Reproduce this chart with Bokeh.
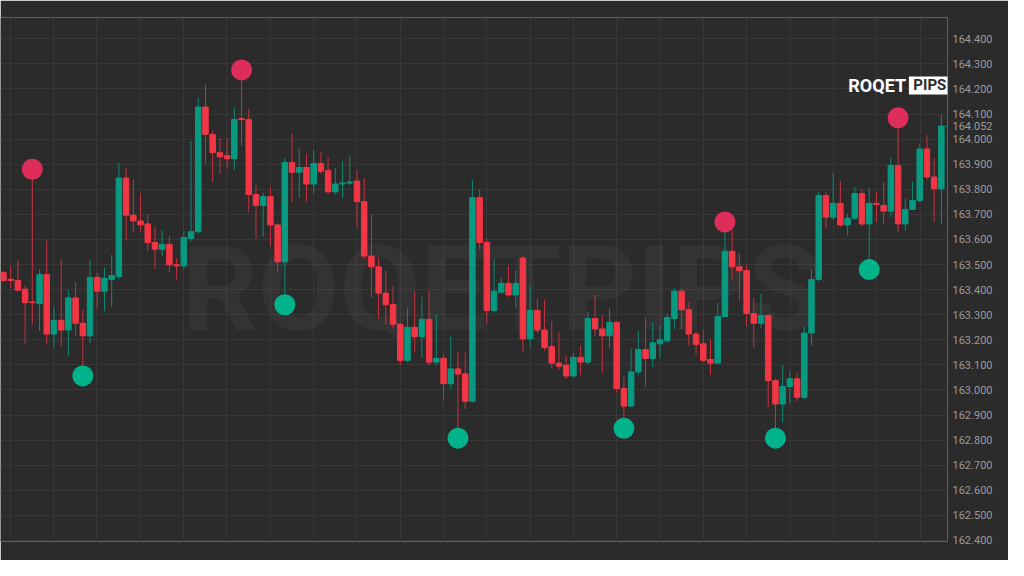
from bokeh.plotting import figure
from bokeh.models import (ColumnDataSource, NumeralTickFormatter, FixedTicker, Range1d)
from bokeh.core.properties import value
from bokeh.embed import file_html
from bokeh.resources import INLINE

# ---- data ----
open_ = [163.468, 163.441, 163.437, 163.402, 163.351, 163.344, 163.460, 163.223, 163.278, 163.239,
         163.367, 163.266, 163.216, 163.449, 163.394, 163.441, 163.452, 163.845, 163.697, 163.674,
         163.662, 163.588, 163.561, 163.581, 163.499, 163.495, 163.604, 163.631, 164.128, 164.019,
         163.946, 163.934, 163.922, 164.082, 164.078, 163.779, 163.736, 163.771, 163.658, 163.511,
         163.907, 163.868, 163.887, 163.821, 163.903, 163.876, 163.790, 163.821, 163.825, 163.833,
         163.751, 163.534, 163.491, 163.386, 163.340, 163.262, 163.118, 163.250, 163.212, 163.282,
         163.111, 163.126, 163.025, 163.084, 163.064, 162.955, 163.767, 163.588, 163.317, 163.390,
         163.425, 163.379, 163.526, 163.204, 163.317, 163.239, 163.173, 163.107, 163.099, 163.056,
         163.130, 163.111, 163.285, 163.243, 163.216, 163.270, 163.006, 162.936, 163.072, 163.161,
         163.126, 163.184, 163.196, 163.285, 163.394, 163.320, 163.223, 163.184, 163.122, 163.107,
         163.293, 163.553, 163.491, 163.476, 163.305, 163.266, 163.297, 163.037, 162.944, 163.014,
         163.045, 162.971, 163.227, 163.441, 163.775, 163.689, 163.744, 163.658, 163.685, 163.783,
         163.662, 163.744, 163.736, 163.713, 163.895, 163.662, 163.720, 163.755, 163.961, 163.849,
         163.802]
high = [163.476, 163.495, 163.518, 163.417, 163.880, 163.480, 163.596, 163.332, 163.522, 163.398,
        163.429, 163.320, 163.518, 163.468, 163.487, 163.538, 163.907, 163.884, 163.841, 163.783,
        163.701, 163.650, 163.635, 163.616, 163.526, 163.635, 163.992, 164.167, 164.217, 164.035,
        164.004, 164.004, 164.124, 164.276, 164.120, 163.817, 163.786, 163.806, 163.666, 163.926,
        164.023, 163.965, 163.942, 163.957, 163.950, 163.926, 163.884, 163.911, 163.934, 163.876,
        163.845, 163.701, 163.526, 163.476, 163.414, 163.266, 163.328, 163.394, 163.371, 163.398,
        163.301, 163.142, 163.216, 163.153, 163.149, 163.837, 163.798, 163.604, 163.522, 163.449,
        163.495, 163.476, 163.534, 163.417, 163.363, 163.359, 163.274, 163.231, 163.138, 163.146,
        163.177, 163.313, 163.379, 163.297, 163.324, 163.274, 163.052, 163.165, 163.235, 163.289,
        163.270, 163.254, 163.305, 163.406, 163.406, 163.351, 163.235, 163.239, 163.200, 163.348,
        163.670, 163.635, 163.546, 163.499, 163.367, 163.383, 163.301, 163.045, 163.099, 163.076,
        163.068, 163.254, 163.480, 163.790, 163.790, 163.864, 163.833, 163.701, 163.810, 163.798,
        163.806, 163.790, 163.829, 163.926, 164.085, 163.763, 163.829, 163.981, 164.016, 163.926,
        164.097]
low = [163.429, 163.406, 163.390, 163.184, 163.262, 163.235, 163.184, 163.169, 163.173, 163.134,
       163.216, 163.056, 163.188, 163.324, 163.313, 163.332, 163.441, 163.596, 163.627, 163.631,
       163.553, 163.483, 163.534, 163.468, 163.441, 163.483, 163.592, 163.623, 163.903, 163.829,
       163.864, 163.884, 163.876, 163.973, 163.709, 163.604, 163.612, 163.573, 163.472, 163.340,
       163.748, 163.767, 163.751, 163.783, 163.860, 163.783, 163.779, 163.767, 163.817, 163.650,
       163.522, 163.367, 163.285, 163.262, 163.243, 163.099, 163.111, 163.149, 163.130, 163.099,
       163.099, 162.959, 163.006, 162.808, 162.924, 162.951, 163.561, 163.262, 163.309, 163.383,
       163.371, 163.328, 163.149, 163.173, 163.227, 163.157, 163.087, 163.080, 163.045, 163.049,
       163.060, 163.103, 163.216, 163.068, 163.165, 162.990, 162.847, 162.932, 163.060, 163.014,
       163.091, 163.130, 163.188, 163.243, 163.243, 163.177, 163.142, 163.111, 163.060, 163.103,
       163.289, 163.441, 163.355, 163.254, 163.169, 163.247, 162.932, 162.808, 162.870, 162.944,
       162.955, 162.963, 163.177, 163.433, 163.643, 163.678, 163.650, 163.616, 163.678, 163.654,
       163.480, 163.670, 163.662, 163.689, 163.631, 163.635, 163.717, 163.748, 163.837, 163.670,
       163.662]
close = [163.437, 163.437, 163.398, 163.348, 163.348, 163.460, 163.223, 163.278, 163.239, 163.367,
         163.266, 163.216, 163.449, 163.394, 163.445, 163.456, 163.845, 163.697, 163.674, 163.658,
         163.588, 163.561, 163.581, 163.499, 163.495, 163.608, 163.631, 164.128, 164.019, 163.946,
         163.930, 163.922, 164.078, 164.078, 163.779, 163.736, 163.771, 163.658, 163.511, 163.907,
         163.868, 163.887, 163.821, 163.903, 163.872, 163.790, 163.821, 163.825, 163.829, 163.751,
         163.534, 163.491, 163.386, 163.340, 163.262, 163.118, 163.250, 163.212, 163.282, 163.111,
         163.126, 163.025, 163.084, 163.064, 162.955, 163.767, 163.588, 163.317, 163.394, 163.425,
         163.379, 163.425, 163.204, 163.317, 163.239, 163.169, 163.107, 163.095, 163.056, 163.130,
         163.111, 163.285, 163.243, 163.216, 163.270, 163.006, 162.936, 163.072, 163.161, 163.126,
         163.188, 163.200, 163.289, 163.394, 163.320, 163.223, 163.181, 163.118, 163.107, 163.293,
         163.553, 163.491, 163.476, 163.305, 163.266, 163.297, 163.037, 162.944, 163.014, 163.045,
         162.971, 163.227, 163.441, 163.775, 163.689, 163.744, 163.658, 163.685, 163.783, 163.662,
         163.744, 163.740, 163.713, 163.895, 163.662, 163.720, 163.755, 163.961, 163.849, 163.802,
         164.052]
swing_high_idx = [4, 33, 100, 124]
swing_low_idx = [11, 39, 63, 86, 107, 120]
price_ticks = [162.4, 162.5, 162.6, 162.7, 162.8, 162.9, 163.0, 163.1, 163.2, 163.3, 163.4,
               163.5, 163.6, 163.7, 163.8, 163.9, 164.0, 164.1, 164.2, 164.3, 164.4]
logo_word = "ROQET"
logo_badge = "PIPS"
watermark_text = "ROQETPIPS"

# ---- styling ----
BG = "#2b2b2b"
GRID = "#383838"
UP = "#089981"
DOWN = "#f23645"
UP_WICK = "#0a8a72"
DOWN_WICK = "#c8303e"
MK_RED = "#df2d5a"
MK_GREEN = "#00b38a"

n = len(close)
idx = list(range(n))
is_up = [c >= o for o, c in zip(open_, close)]
src = ColumnDataSource(dict(
    x=idx, h=high, l=low,
    top=[max(o, c) for o, c in zip(open_, close)],
    bottom=[min(o, c) for o, c in zip(open_, close)],
    color=[UP if u else DOWN for u in is_up],
    wick=[UP_WICK if u else DOWN_WICK for u in is_up],
))

p = figure(width=1008, height=560, output_backend="svg", toolbar_location=None,
           x_range=Range1d(-0.41, 130.85), y_range=Range1d(162.396, 164.485),
           y_axis_location="right", min_border_left=0, min_border_top=17,
           min_border_right=61, min_border_bottom=19)
p.background_fill_color = BG
p.border_fill_color = BG
p.outline_line_color = None

p.xaxis.visible = False
p.xgrid.ticker = FixedTicker(ticks=[0.955 + 6.004 * k for k in range(22)])
p.xgrid.grid_line_color = GRID
p.ygrid.ticker = FixedTicker(ticks=price_ticks)
p.ygrid.grid_line_color = GRID

ax = p.yaxis[0]
ax.ticker = FixedTicker(ticks=price_ticks + [close[-1]])
ax.formatter = NumeralTickFormatter(format="0.000")
ax.axis_line_color = None
ax.major_tick_line_color = None
ax.minor_tick_line_color = None
ax.major_tick_out = 0
ax.major_label_standoff = 5
ax.major_label_text_color = "#9a9a9a"
ax.major_label_text_font = "Roboto"
ax.major_label_text_font_size = "11px"

# last-price mark at the frame edge
p.segment(x0=[130.45], y0=[close[-1]], x1=[130.85], y1=[close[-1]],
          line_color=UP, line_width=1)

# faint watermark
p.text(x=[24.8], y=[163.40], text=[watermark_text], text_font=value("Roboto"),
       text_font_style="bold", text_font_size="118px", text_color="white",
       text_alpha=0.04, text_baseline="middle", text_align="left")

# candles
p.segment(x0="x", y0="h", x1="x", y1="l", line_color="wick", line_width=1, source=src)
p.vbar(x="x", width=0.76, top="top", bottom="bottom", fill_color="color",
       line_color="color", line_width=1, source=src)

# swing markers
p.scatter(x=swing_high_idx, y=[high[i] for i in swing_high_idx], size=21,
          fill_color=MK_RED, line_color=None)
p.scatter(x=swing_low_idx, y=[low[i] for i in swing_low_idx], size=21,
          fill_color=MK_GREEN, line_color=None)

# logo
p.text(x=[117.1], y=[164.214], text=[logo_word], text_font=value("Roboto"),
       text_font_style="bold", text_font_size="18px", text_color="white",
       text_baseline="middle", text_align="left")
p.quad(left=[125.5], right=[131.3], top=[164.250], bottom=[164.178],
       fill_color="white", line_color=None)
p.text(x=[128.4], y=[164.214], text=[logo_badge], text_font=value("Roboto"),
       text_font_style="bold", text_font_size="15px", text_color=BG,
       text_baseline="middle", text_align="center")

open("out.html", "w").write(file_html(p, INLINE))
